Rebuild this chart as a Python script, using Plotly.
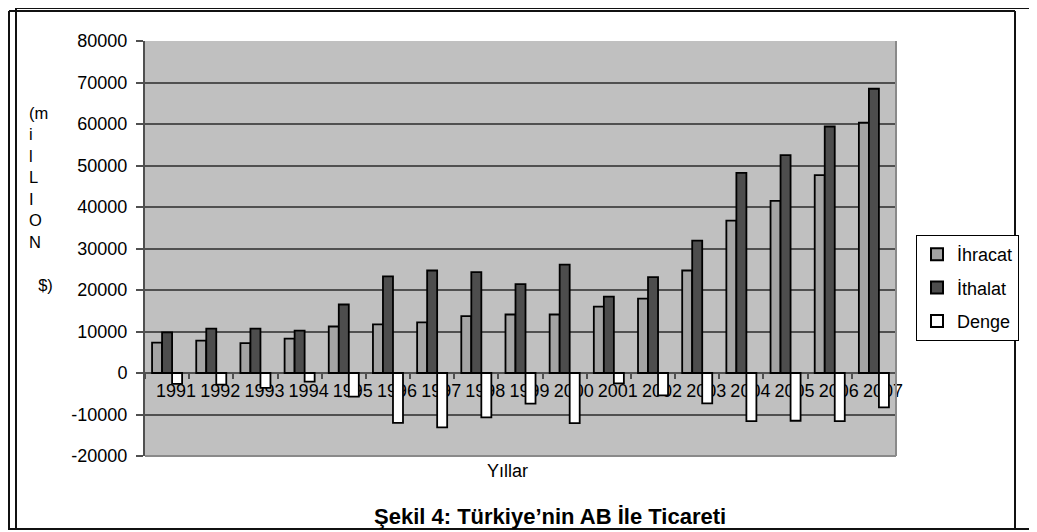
import plotly.graph_objects as go

years = ["1991", "1992", "1993", "1994", "1995", "1996", "1997", "1998", "1999",
         "2000", "2001", "2002", "2003", "2004", "2005", "2006", "2007"]
ihracat = [7300, 7800, 7200, 8300, 11200, 11700, 12200, 13700, 14100,
           14100, 16000, 17900, 24700, 36700, 41500, 47700, 60300]
ithalat = [9800, 10700, 10700, 10200, 16500, 23300, 24700, 24300, 21400,
           26100, 18400, 23100, 31900, 48200, 52500, 59400, 68500]
denge = [-2600, -2800, -3600, -2100, -5700, -12000, -13100, -10700, -7400,
         -12100, -2500, -5400, -7300, -11600, -11500, -11600, -8300]
y_ticks = [-20000, -10000, 0, 10000, 20000, 30000, 40000, 50000, 60000, 70000, 80000]

# page has an 8px body margin; figure coordinates = page coordinates - 8
OFF = 8
W, H = 1037 - OFF, 532 - OFF
L, R, T, B = 145 - OFF, 896 - OFF, 41 - OFF, 456 - OFF
PW, PH = R - L, B - T


def px(x):
    return (x - L) / PW


def py(y):
    return (B - y) / PH


FONT = "Liberation Sans, Arial, sans-serif"
GRID = "#505050"

fig = go.Figure()
fig.add_trace(go.Bar(name="İhracat", x=years, y=ihracat, legendgroup="a",
                     marker=dict(color="#a4a4a4", line=dict(color="black", width=1.8))))
fig.add_trace(go.Bar(name="İthalat", x=years, y=ithalat, legendgroup="b",
                     marker=dict(color="#4d4d4d", line=dict(color="black", width=1.8))))
fig.add_trace(go.Bar(name="Denge", x=years, y=denge, legendgroup="c",
                     marker=dict(color="white", line=dict(color="black", width=1.8))))

fig.update_layout(
    width=W, height=H, autosize=False,
    margin=dict(l=L, r=W - R, t=T, b=H - B, pad=0),
    paper_bgcolor="white", plot_bgcolor="#c0c0c0",
    barmode="group", bargap=0.32, bargroupgap=0,
    font=dict(family=FONT, size=18, color="black"),
    showlegend=True,
    legend=dict(x=px(908), y=py(227), xanchor="left", yanchor="top",
                bgcolor="white", bordercolor="black", borderwidth=1,
                font=dict(size=18), traceorder="grouped", tracegroupgap=7,
                itemsizing="constant"),
    xaxis=dict(type="category", range=[-0.5, 16.5], anchor="free", position=0.2,
               showgrid=False, showline=False, zeroline=False,
               ticks="outside", tickson="boundaries", ticklen=5, tickwidth=1.5,
               tickcolor=GRID, tickfont=dict(size=18), tickangle=0, ticklabelshift=9,
               ticklabelstandoff=5, layer="below traces"),
    yaxis=dict(range=[-20000, 80000], tickvals=y_ticks, ticktext=[str(v) for v in y_ticks],
               showgrid=True, gridcolor=GRID, gridwidth=1.8,
               zeroline=True, zerolinecolor=GRID, zerolinewidth=1.8,
               showline=True, linecolor=GRID, linewidth=2,
               ticks="outside", ticklen=7, tickwidth=1.5, tickcolor=GRID,
               tickfont=dict(size=18), ticklabelstandoff=5),
)


def seg(x0, y0, x1, y1, color="#111", width=2):
    return dict(type="line", xref="paper", yref="paper",
                x0=px(x0), x1=px(x1), y0=py(y0), y1=py(y1),
                line=dict(color=color, width=width))


shapes = [
    # plot area border (right and bottom lighter)
    dict(type="line", xref="paper", yref="paper", x0=1, x1=1, y0=0, y1=1,
         line=dict(color="#8a8a8a", width=2)),
    dict(type="line", xref="paper", yref="paper", x0=0, x1=1, y0=0, y1=0,
         line=dict(color="#8a8a8a", width=2)),
    # outer double frame (figure coords)
    seg(8, 0, W + 5, 0),
    seg(8, 0, 8, H - 3),
    seg(1, 3, 1007, 3),
    seg(1, 3, 1, H - 3),
    seg(1007, 3, 1007, H - 3),
    seg(0, H - 3, W + 5, H - 3),
]
fig.update_layout(shapes=shapes)

annotations = [
    dict(text="(m<br>i<br>l<br>L<br>I<br>O<br>N<br> <br>\u00a0\u00a0$)", xref="paper", yref="paper",
         x=px(19), y=py(94), xanchor="left", yanchor="top", align="left",
         showarrow=False, font=dict(size=16.5)),
    dict(text="Yıllar", xref="paper", yref="paper", x=px(499), y=py(463),
         xanchor="center", yanchor="middle", showarrow=False, font=dict(size=18)),
    dict(text="<b>Şekil 4: Türkiye’nin AB İle Ticareti</b>", xref="paper", yref="paper",
         x=px(542), y=py(508), xanchor="center", yanchor="middle", showarrow=False,
         font=dict(size=22)),
]
fig.update_layout(annotations=annotations)

fig.write_html("out.html")
